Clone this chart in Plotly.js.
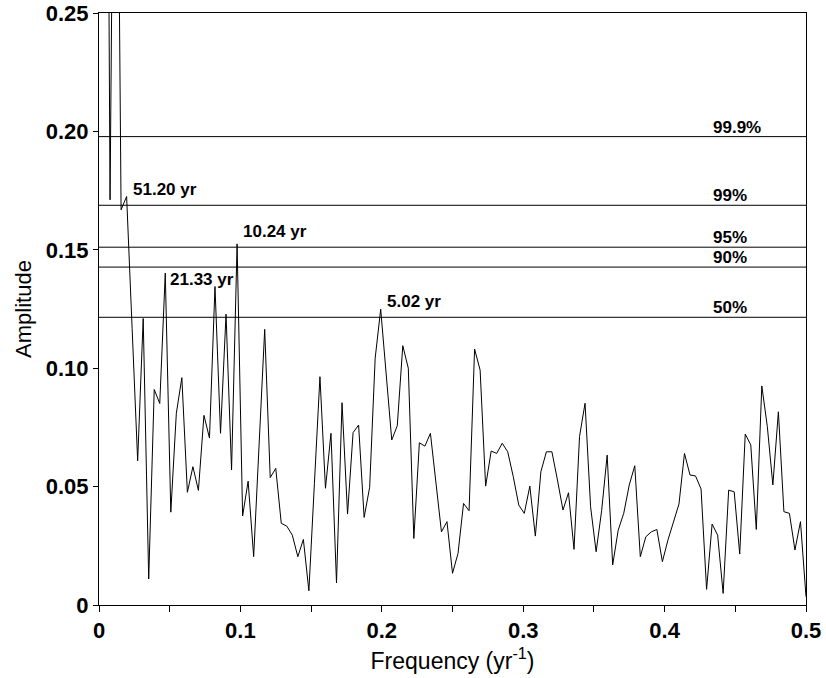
<!DOCTYPE html>
<html>
<head>
<meta charset="utf-8">
<script src="https://cdn.plot.ly/plotly-3.0.1.min.js"></script>
<style>
  html, body { margin: 0; padding: 0; background: #ffffff; }
  #chart { width: 826px; height: 678px; }
</style>
</head>
<body>
<div id="chart"></div>
<script>
// Spectrum: evenly spaced frequency bins (yr^-1), first bin and spacing
const freqStart = 0;
const freqStep = 1 / 256;

// Amplitude at each frequency bin
const amplitude = [
  0.80, 0.60, 0.1711, 0.45, 0.1669, 0.1725, 0.1167, 0.0609, 0.1210, 0.0110,
  0.0910, 0.0851, 0.1402, 0.0392, 0.0810, 0.0960, 0.0476, 0.0584, 0.0484, 0.0801,
  0.0705, 0.1345, 0.0725, 0.1228, 0.0570, 0.1525, 0.0376, 0.0523, 0.0204, 0.0654,
  0.1164, 0.0538, 0.0577, 0.0345, 0.0333, 0.0295, 0.0204, 0.0277, 0.0060, 0.0514,
  0.0964, 0.0493, 0.0725, 0.0093, 0.0854, 0.0384, 0.0728, 0.0760, 0.0370, 0.0497,
  0.1042, 0.1249, 0.0973, 0.0697, 0.0757, 0.1095, 0.1000, 0.0281, 0.0685, 0.0671,
  0.0725, 0.0515, 0.0309, 0.0352, 0.0134, 0.0218, 0.0429, 0.0398, 0.1081, 0.0992,
  0.0502, 0.0650, 0.0640, 0.0683, 0.0647, 0.0542, 0.0422, 0.0387, 0.0502, 0.0291,
  0.0563, 0.0647, 0.0647, 0.0528, 0.0401, 0.0474, 0.0235, 0.0712, 0.0852, 0.0415,
  0.0225, 0.0398, 0.0633, 0.0169, 0.0316, 0.0387, 0.0507, 0.0588, 0.0204, 0.0288,
  0.0309, 0.0319, 0.0183, 0.0274, 0.0345, 0.0426, 0.0640, 0.0549, 0.0545, 0.0490,
  0.0066, 0.0342, 0.0295, 0.0049, 0.0485, 0.0478, 0.0215, 0.0722, 0.0676, 0.0319,
  0.0925, 0.0753, 0.0507, 0.0816, 0.0394, 0.0387, 0.0232, 0.0352, 0.0035
];

// Significance levels
const levelValues = [0.1978, 0.1688, 0.1511, 0.1427, 0.1215];
const levelLabels = ['99.9%', '99%', '95%', '90%', '50%'];

// Labelled peaks (bin index) and their period labels
const peakIndex = [5, 25, 12, 51];
const peakLabels = ['51.20 yr', '10.24 yr', '21.33 yr', '5.02 yr'];

// Axis ticks
const xTickVals = [0, 0.1, 0.2, 0.3, 0.4, 0.5];
const xTickText = ['0', '0.1', '0.2', '0.3', '0.4', '0.5'];
const yTickVals = [0, 0.05, 0.1, 0.15, 0.2, 0.25];
const yTickText = ['0', '0.05', '0.10', '0.15', '0.20', '0.25'];

const FONT = 'Liberation Sans, Arial, Helvetica, sans-serif';

const trace = {
  type: 'scatter',
  mode: 'lines',
  x0: freqStart,
  dx: freqStep,
  y: amplitude,
  line: { color: '#000000', width: 1 },
  hoverinfo: 'x+y',
  showlegend: false
};

const shapes = levelValues.map(v => ({
  type: 'line', xref: 'paper', yref: 'y',
  x0: 0, x1: 1, y0: v, y1: v,
  line: { color: '#000000', width: 1 }
}));

// per-peak label placement tweaks
const peakPlacement = [
  { yanchor: 'bottom', xshift: 4, yshift: -4 },
  { yanchor: 'bottom', xshift: 4, yshift: 1 },
  { yanchor: 'top', xshift: 2.5, yshift: 5 },
  { yanchor: 'bottom', xshift: 4, yshift: -4 }
];

const annotations = [];
peakIndex.forEach((k, i) => {
  annotations.push({
    x: freqStart + k * freqStep,
    y: amplitude[k],
    xref: 'x', yref: 'y',
    text: peakLabels[i],
    showarrow: false,
    xanchor: 'left',
    yanchor: peakPlacement[i].yanchor,
    xshift: peakPlacement[i].xshift,
    yshift: peakPlacement[i].yshift,
    font: { family: FONT, size: 17, color: '#000000', weight: 'bold' }
  });
});
levelValues.forEach((v, i) => {
  annotations.push({
    x: 0.866, xref: 'paper',
    y: v, yref: 'y',
    text: levelLabels[i],
    showarrow: false,
    xanchor: 'left', yanchor: 'bottom',
    yshift: -2,
    font: { family: FONT, size: 17, color: '#000000', weight: 'bold' }
  });
});

const layout = {
  width: 826,
  height: 678,
  margin: { l: 99, r: 20, t: 13, b: 73, pad: 0 },
  paper_bgcolor: '#ffffff',
  plot_bgcolor: '#ffffff',
  font: { family: FONT, color: '#000000' },
  xaxis: {
    range: [0, 0.5],
    tickmode: 'array',
    tickvals: xTickVals,
    ticktext: xTickText,
    ticks: 'outside',
    ticklen: 6,
    tickwidth: 1,
    tickcolor: '#000000',
    minor: { dtick: 0.05, ticks: 'outside', ticklen: 6, tickwidth: 1, tickcolor: '#000000', showgrid: false },
    showline: true,
    linecolor: '#000000',
    linewidth: 1,
    mirror: true,
    showgrid: false,
    zeroline: false,
    tickfont: { family: FONT, size: 22, color: '#000000', weight: 'bold' },
    title: { text: 'Frequency (yr<sup>-1</sup>)', font: { family: FONT, size: 23, color: '#000000' }, standoff: 10 }
  },
  yaxis: {
    range: [0, 0.25],
    tickmode: 'array',
    tickvals: yTickVals,
    ticktext: yTickText,
    ticks: 'outside',
    ticklen: 5,
    tickwidth: 1,
    tickcolor: '#000000',
    showline: true,
    linecolor: '#000000',
    linewidth: 1,
    mirror: true,
    showgrid: false,
    zeroline: false,
    tickfont: { family: FONT, size: 22, color: '#000000', weight: 'bold' },
    title: { text: 'Amplitude', font: { family: FONT, size: 22, color: '#000000' }, standoff: 8 }
  },
  shapes: shapes,
  annotations: annotations
};

Plotly.newPlot('chart', [trace], layout, { displayModeBar: false, staticPlot: true });
</script>
</body>
</html>
